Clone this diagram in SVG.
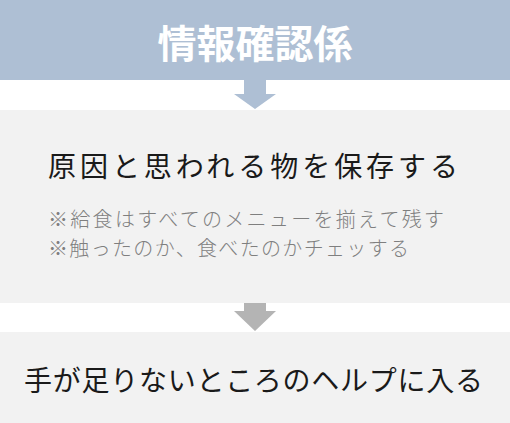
<svg xmlns="http://www.w3.org/2000/svg" width="510" height="423" viewBox="0 0 510 423">
<style>
.jp{font-family:"Noto Sans CJK JP","Noto Sans CJK SC",sans-serif;}
.box{fill:#f2f2f2;}
.title{font-size:28px;fill:#1a1a1a;font-weight:400;}
.note{font-size:20px;fill:#7f7f7f;font-weight:300;}
</style>
<rect width="510" height="423" fill="#ffffff"/>
<g id="header">
<rect x="0" y="0" width="510" height="80" fill="#aebfd4"/>
<text class="jp" x="255" y="58" text-anchor="middle" font-size="39" font-weight="700" fill="#ffffff">情報確認係</text>
</g>
<g id="connectors">
<polygon points="244,80 266,80 266,94 276,94 255,109 234,94 244,94" fill="#aebfd4"/>
<polygon points="244,303 266,303 266,311 276,311 255,331 234,311 244,311" fill="#b4b4b4"/>
</g>
<g id="keep">
<rect class="box" x="0" y="110" width="510" height="193"/>
<text class="jp title" x="48" y="177" textLength="410" lengthAdjust="spacing">原因と思われる物を保存する</text>
<text class="jp note" x="48" y="227" textLength="396" lengthAdjust="spacing">※給食はすべてのメニューを揃えて残す</text>
<text class="jp note" x="48" y="256" textLength="361" lengthAdjust="spacing">※触ったのか、食べたのかチェッする</text>
</g>
<g id="help">
<rect class="box" x="0" y="332" width="510" height="91"/>
<text class="jp title" x="24" y="391" textLength="459" lengthAdjust="spacing">手が足りないところのヘルプに入る</text>
</g>
</svg>
